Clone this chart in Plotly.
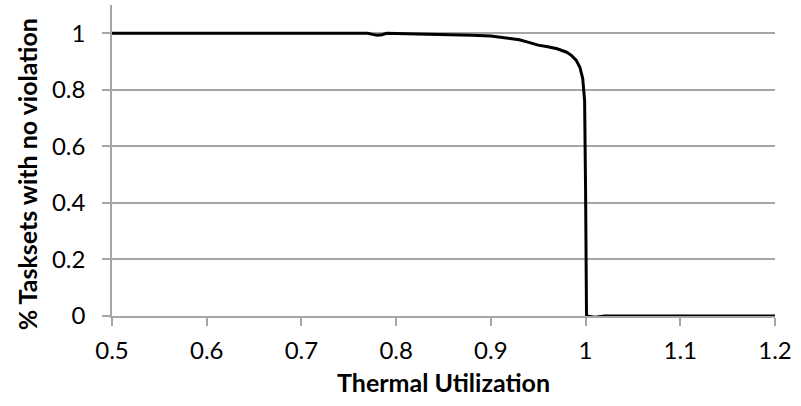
import plotly.graph_objects as go

utilization = [0.5, 0.55, 0.6, 0.65, 0.7, 0.75, 0.77, 0.775, 0.78, 0.785, 0.79, 0.8,
               0.82, 0.85, 0.88, 0.9, 0.92, 0.93, 0.94, 0.95, 0.96, 0.97, 0.98,
               0.985, 0.99, 0.994, 0.997, 0.999, 1.0, 1.001, 1.01, 1.02, 1.05, 1.1, 1.15, 1.2]
no_violation = [1.0, 1.0, 1.0, 1.0, 1.0, 1.0, 1.0, 0.996, 0.993, 0.995, 1.0, 0.999,
                0.998, 0.996, 0.993, 0.99, 0.983, 0.977, 0.968, 0.958, 0.952, 0.945, 0.933,
                0.922, 0.905, 0.88, 0.84, 0.76, 0.45, 0.0, -0.004, 0.0, 0.0, 0.0, 0.0, 0.0]

x_ticks = [0.5, 0.6, 0.7, 0.8, 0.9, 1.0, 1.1, 1.2]
x_labels = ["0.5", "0.6", "0.7", "0.8", "0.9", "1", "1.1", "1.2"]
y_ticks = [0, 0.2, 0.4, 0.6, 0.8, 1.0]
y_labels = ["0", "0.2", "0.4", "0.6", "0.8", "1"]

fig = go.Figure()
fig.add_trace(go.Scatter(x=utilization, y=no_violation, mode="lines",
                         line=dict(color="black", width=3), showlegend=False))

font = "Lato, Arial, sans-serif"
fig.update_layout(
    width=801, height=406,
    margin=dict(l=112, r=26, t=5, b=90),
    paper_bgcolor="white", plot_bgcolor="white",
    font=dict(family=font, size=24, color="black"),
)
fig.update_xaxes(
    range=[0.5, 1.2], tickvals=x_ticks, ticktext=x_labels,
    showgrid=False, zeroline=False,
    showline=True, linecolor="#a6a6a6", linewidth=1.5,
    ticks="outside", ticklen=8, tickcolor="#a6a6a6", tickwidth=1.5,
    tickfont=dict(size=24), ticklabelstandoff=4,
    title=dict(text="<b>Thermal Utilization</b>", font=dict(family=font, size=25), standoff=12),
    automargin=False,
)
fig.update_yaxes(
    range=[0, 1.1], tickvals=y_ticks, ticktext=y_labels,
    showgrid=True, gridcolor="#a6a6a6", gridwidth=1.5, zeroline=False,
    showline=True, linecolor="#a6a6a6", linewidth=1.5,
    ticks="outside", ticklen=8, tickcolor="#a6a6a6", tickwidth=1.5,
    tickfont=dict(size=24), ticklabelstandoff=12,
    automargin=False,
)
fig.add_annotation(
    text="<b>% Tasksets with no violation</b>",
    xref="paper", yref="paper", x=-0.127, y=0.455,
    xanchor="center", yanchor="middle", textangle=-90, showarrow=False,
    font=dict(family=font, size=25, color="black"),
)
fig.write_html("out.html", config={"displayModeBar": False},
               post_script="document.body.style.margin='0';document.body.style.overflow='hidden';")
